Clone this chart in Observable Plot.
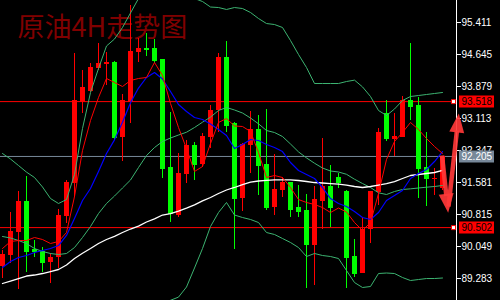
<!DOCTYPE html>
<html>
<head>
<meta charset="utf-8">
<script src="https://cdn.jsdelivr.net/npm/d3@7"></script>
<script src="https://cdn.jsdelivr.net/npm/@observablehq/plot@0.6"></script>
<style>
  html, body { margin: 0; padding: 0; background: #000; }
  #chart svg { display: block; }
</style>
</head>
<body>
<div id="chart"></div>
<script>
// Crude oil, 4-hour candles
const title = "原油4H走势图";

const open = [89.571, 89.834, 90.392, 91.127, 89.977, 89.937, 89.673, 89.786, 90.775, 91.557,
  93.504, 93.767, 94.317, 94.418, 94.461, 92.666, 93.504, 94.700, 94.789, 94.789,
  94.526, 91.948, 90.791, 91.773, 92.467, 92.012, 92.666, 93.305, 94.581, 92.986,
  91.206, 92.467, 92.850, 92.012, 90.976, 91.390, 91.574, 90.976, 90.911, 90.073,
  91.127, 91.493, 91.708, 91.373, 89.810, 89.410, 90.449, 91.349, 93.226, 92.618,
  92.666, 93.544, 93.425, 91.933, 91.653, 91.431];
const close = [89.858, 90.416, 91.127, 89.937, 89.930, 89.673, 89.779, 90.791, 91.581, 93.544,
  93.863, 94.341, 94.437, 94.454, 92.666, 93.544, 94.717, 94.796, 94.765, 94.502,
  91.924, 90.832, 91.804, 92.467, 92.012, 92.690, 93.305, 94.581, 92.946, 91.206,
  92.491, 92.850, 91.988, 90.976, 91.414, 91.574, 90.935, 90.887, 90.097, 91.174,
  91.493, 90.990, 91.589, 89.793, 89.410, 90.449, 91.366, 92.778, 92.627, 92.682,
  93.544, 93.408, 91.924, 91.670, 91.684, 92.205];
const high = [89.954, 90.870, 91.366, 91.725, 90.193, 90.033, 89.882, 90.935, 91.629, 94.669,
  94.262, 94.430, 94.909, 94.700, 94.470, 93.688, 95.818, 95.028, 95.148, 95.004,
  94.530, 93.264, 92.276, 92.587, 92.539, 92.754, 93.425, 94.669, 94.957, 93.025,
  92.522, 93.288, 93.185, 93.329, 92.252, 91.708, 91.589, 91.510, 91.294, 91.493,
  92.642, 91.988, 91.797, 91.380, 90.217, 90.751, 91.370, 92.867, 93.544, 93.226,
  93.640, 94.902, 93.623, 92.778, 91.909, 92.205];
const low = [89.283, 89.642, 89.020, 89.434, 89.793, 89.434, 89.164, 89.523, 90.600, 91.222,
  93.233, 93.736, 94.262, 93.903, 92.587, 92.091, 92.994, 94.461, 94.597, 94.430,
  91.677, 90.631, 90.751, 91.550, 91.629, 91.948, 92.388, 92.785, 92.785, 89.970,
  90.894, 91.804, 91.270, 90.911, 90.791, 91.229, 90.751, 90.751, 89.037, 89.116,
  90.449, 90.511, 91.438, 89.037, 89.314, 89.400, 90.114, 91.031, 92.570, 92.204,
  92.651, 93.065, 91.191, 91.014, 91.270, 91.400];

// Moving averages
const maFast = [90.001, 90.169, 90.193, 90.193, 90.265, 90.217, 90.121, 90.169, 90.384, 91.246,
  92.347, 93.065, 93.616, 94.071, 93.975, 93.879, 94.023, 94.071, 94.095, 94.454,
  94.143, 93.472, 92.898, 92.395, 91.845, 91.964, 92.515, 93.018, 93.113, 92.934,
  92.922, 92.802, 92.299, 91.701, 91.749, 91.701, 91.462, 91.174, 91.103, 91.055,
  90.983, 90.863, 90.971, 90.875, 90.624, 90.432, 90.624, 91.318, 92.132, 92.563,
  92.778, 93.018, 92.850, 92.635, 92.443, 92.275];
const maMid = [89.547, 89.690, 89.786, 89.834, 89.906, 89.953, 90.001, 90.073, 90.313, 90.720,
  91.150, 91.438, 91.845, 92.275, 92.603, 93.022, 93.489, 93.843, 94.095, 94.214,
  94.059, 93.760, 93.448, 93.281, 93.137, 93.089, 92.982, 92.850, 92.706, 92.395,
  92.491, 92.611, 92.587, 92.491, 92.419, 92.323, 92.060, 91.869, 91.773, 91.677,
  91.462, 91.198, 91.079, 91.007, 90.887, 90.743, 90.696, 90.863, 91.150, 91.270,
  91.390, 91.677, 91.797, 91.892, 92.084, 92.323];
const maSlow = [89.164, 89.223, 89.283, 89.343, 89.367, 89.403, 89.451, 89.499, 89.606, 89.762,
  89.889, 90.001, 90.121, 90.217, 90.293, 90.384, 90.468, 90.538, 90.636, 90.712,
  90.803, 90.839, 90.899, 90.966, 91.047, 91.141, 91.222, 91.318, 91.402, 91.462,
  91.533, 91.593, 91.617, 91.634, 91.646, 91.646, 91.646, 91.629, 91.605, 91.581,
  91.569, 91.557, 91.545, 91.521, 91.486, 91.462, 91.486, 91.521, 91.557, 91.605,
  91.677, 91.749, 91.773, 91.797, 91.821, 91.869];

// Bollinger bands
const bandUpper = [92.275, 92.144, 91.988, 91.830, 91.701, 91.474, 91.198, 91.079, 91.174, 91.773,
  92.874, 93.736, 94.310, 94.849, 95.016, 95.292, 95.639, 95.986, 96.177, 96.297,
  96.321, 96.273, 96.177, 96.058, 95.986, 95.914, 95.782, 95.770, 95.723, 95.770,
  95.746, 95.651, 95.507, 95.387, 95.363, 95.292, 94.980, 94.645, 94.334, 93.951,
  93.951, 93.951, 93.951, 93.999, 94.032, 93.870, 93.640, 93.305, 93.185, 93.341,
  93.544, 93.640, 93.664, 93.688, 93.712, 93.736];
const bandMiddle = [90.289, 90.253, 90.193, 90.121, 90.001, 89.930, 89.882, 89.858, 89.882, 90.025,
  90.265, 90.528, 90.839, 91.079, 91.258, 91.450, 91.641, 91.940, 92.228, 92.419,
  92.563, 92.646, 92.718, 92.785, 92.898, 93.025, 93.147, 93.305, 93.377, 93.317,
  93.245, 93.125, 92.986, 92.826, 92.778, 92.682, 92.503, 92.314, 92.170, 92.043,
  91.928, 91.857, 91.833, 91.778, 91.660, 91.557, 91.462, 91.335, 91.294, 91.366,
  91.414, 91.430, 91.450, 91.469, 91.486, 91.510];
const bandLower = [88.303, 88.362, 88.398, 88.412, 88.301, 88.386, 88.566, 88.637, 88.590, 88.277,
  87.656, 87.320, 87.368, 87.309, 87.500, 87.608, 87.643, 87.894, 88.279, 88.541,
  88.700, 88.762, 88.838, 89.080, 89.535, 90.001, 90.528, 90.863, 91.103, 90.803,
  90.743, 90.696, 90.624, 90.384, 90.337, 90.241, 90.145, 90.025, 89.810, 89.882,
  89.834, 89.810, 89.762, 89.475, 89.187, 89.068, 89.092, 89.403, 89.415, 89.403,
  89.307, 89.235, 89.259, 89.283, 89.283, 89.295];

// Price axis ticks, marked levels and the last price
const priceTicks = [95.411, 94.645, 93.879, 93.113, 92.347, 91.581, 90.815, 90.049, 89.283];
const levels = [93.518, 90.502];
const lastPrice = 92.205;

// Forecast arrows: down then up
const arrowX1 = [54.94, 55.75];
const arrowY1 = [92.228, 91.007];
const arrowX2 = [55.71, 57.04];
const arrowY2 = [90.856, 93.233];

// ---- layout ----
const W = 500, H = 300, axisW = 44;
const xDomain = [-0.25, 56.75];
const yDomain = [88.757, 95.938];
const pxPerX = (W - axisW) / (xDomain[1] - xDomain[0]);
const pxPerY = H / (yDomain[1] - yDomain[0]);

const up = "#ff0000", down = "#00ff00";
const bandColor = "#3cb371";
const arrowColor = "#ff3838";

const candles = open.map((o, i) => ({i, open: o, close: close[i], high: high[i], low: low[i]}));
const candleColor = d => d.close >= d.open ? up : down;

const headLen = 19;
const arrows = arrowX1.map((x1, k) => {
  const x2 = arrowX2[k], y1 = arrowY1[k], y2 = arrowY2[k];
  const dx = (x2 - x1) * pxPerX, dy = -(y2 - y1) * pxPerY;
  const len = Math.hypot(dx, dy);
  const t = 1 - (headLen - 2) / len;
  return {
    x1, y1, x2, y2,
    sx: x1 + (x2 - x1) * t, sy: y1 + (y2 - y1) * t,
    angle: Math.atan2(dx, -dy) * 180 / Math.PI
  };
});

const headSymbol = {draw(c) { c.moveTo(0, 0); c.lineTo(7.5, headLen); c.lineTo(-7.5, headLen); c.closePath(); }};
const tagSymbol = {draw(c) { c.rect(-17.5, -6, 35, 12); }};

const chart = Plot.plot({
  width: W,
  height: H,
  marginLeft: 0,
  marginRight: axisW,
  marginTop: 0,
  marginBottom: 0,
  style: {background: "#000", color: "#fff", fontFamily: "'Liberation Sans', Arial, sans-serif", fontSize: "10px", overflow: "hidden"},
  x: {domain: xDomain, axis: null},
  y: {domain: yDomain, axis: null},
  marks: [
    Plot.text([title], {
      text: d => d, frameAnchor: "top-left", dx: 17, dy: 28,
      lineAnchor: "middle", textAnchor: "start",
      fontSize: 27, fontFamily: "'Noto Sans CJK SC', sans-serif", fill: "#800000"
    }),
    // level lines and last price line
    Plot.ruleY(levels, {y: d => d, stroke: "#ff0000", strokeWidth: 1}),
    Plot.ruleY([lastPrice], {y: d => d, stroke: "#778899", strokeWidth: 1}),
    // candles
    Plot.ruleX(candles, {x: "i", y1: "low", y2: "high", stroke: candleColor, shapeRendering: "crispEdges"}),
    Plot.rect(candles, {x1: d => d.i - 0.25, x2: d => d.i + 0.375, y1: "open", y2: "close", fill: candleColor, shapeRendering: "crispEdges"}),
    Plot.ruleY(candles, {y: "close", x1: d => d.i - 0.25, x2: d => d.i + 0.375, stroke: candleColor, shapeRendering: "crispEdges"}),
    // indicators
    Plot.lineY(bandUpper, {stroke: bandColor, strokeWidth: 1}),
    Plot.lineY(bandMiddle, {stroke: bandColor, strokeWidth: 1}),
    Plot.lineY(bandLower, {stroke: bandColor, strokeWidth: 1}),
    Plot.lineY(maSlow, {stroke: "#ffffff", strokeWidth: 1.3}),
    Plot.lineY(maMid, {stroke: "#0000ff", strokeWidth: 1.2}),
    Plot.lineY(maFast, {stroke: "#ff0000", strokeWidth: 1}),
    // price axis
    Plot.ruleX([xDomain[1]], {stroke: "#fff"}),
    Plot.axisY(priceTicks, {
      anchor: "right", label: null, tickSize: 4, tickPadding: 1,
      tickFormat: d => d.toFixed(3), fontSize: 10, stroke: "#fff", fill: "#fff"
    }),
    // level markers and price tags
    Plot.dot(levels, {y: d => d, frameAnchor: "right", dx: -3, symbol: "square", r: 2.3, fill: "#fff", stroke: "#ff0000", strokeWidth: 1}),
    Plot.dot(levels, {y: d => d, frameAnchor: "right", dx: 20, symbol: tagSymbol, r: 4, fill: "#ff0000"}),
    Plot.text(levels, {y: d => d, text: d => d.toFixed(3), frameAnchor: "right", dx: 5, textAnchor: "start", fill: "#000", fontSize: 10}),
    Plot.dot([lastPrice], {y: d => d, frameAnchor: "right", dx: 20, symbol: tagSymbol, r: 4, fill: "#778899"}),
    Plot.text([lastPrice], {y: d => d, text: d => d.toFixed(3), frameAnchor: "right", dx: 5, textAnchor: "start", fill: "#fff", fontSize: 10}),
    // forecast arrows
    Plot.link(arrows, {x1: "x1", y1: "y1", x2: "sx", y2: "sy", stroke: arrowColor, strokeWidth: 4.5, strokeOpacity: 0.92}),
    Plot.dot(arrows, {x: "x2", y: "y2", rotate: "angle", symbol: headSymbol, r: 5, fill: arrowColor, fillOpacity: 0.92, stroke: "none"})
  ]
});

document.getElementById("chart").append(chart);
</script>
</body>
</html>
